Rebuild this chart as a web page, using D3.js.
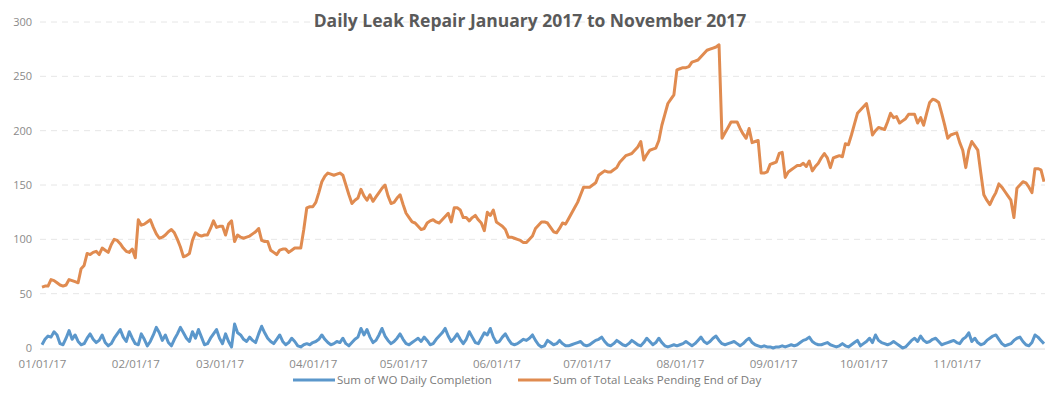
<!DOCTYPE html>
<html>
<head>
<meta charset="utf-8">
<script src="https://cdn.jsdelivr.net/npm/d3@7"></script>
<style>
  html, body { margin: 0; padding: 0; background: #fff; }
  svg { display: block; }
</style>
</head>
<body>
<svg id="chart" width="1045" height="403"></svg>
<script>
// ---------- DATA ----------
const startDate = "2017-01-01";
const endDate = "2017-11-30";
const yTicks = [0, 50, 100, 150, 200, 250, 300];
const xTickLabels = ["01/01/17","02/01/17","03/01/17","04/01/17","05/01/17","06/01/17","07/01/17","08/01/17","09/01/17","10/01/17","11/01/17"];
const seriesNames = ["Sum of WO Daily Completion", "Sum of Total Leaks Pending End of Day"];

const woDailyCompletion = [
 3,8,11,10,15,12,4, 3,9,16,8,12,6,3, 4,9,13,8,5,7,12, 5,2,4,9,13,17,10,
 6,15,9,4,3,13,8, 2,6,12,19,14,7,12, 5,2,8,13,19,14,9, 6,15,9,17,10,3,4,
 9,13,17,9,4,13,6, 1,22,14,12,8,6,10, 7,5,13,20,14,9,6, 4,8,12,6,3,5,9,
 6,2,1,3,4,3,5, 6,8,12,8,5,3,4, 6,5,9,4,2,5,8, 10,18,12,17,10,5,7,
 12,18,11,7,4,6,9, 13,8,4,3,5,7,9, 6,10,7,3,4,8,11, 14,18,11,6,9,13,8,
 4,8,15,10,5,4,9, 14,12,18,10,5,6,10, 13,8,4,3,4,6,8, 7,9,12,7,3,1,2,
 7,5,3,4,7,4,2, 2,3,4,5,6,3,2, 3,5,7,8,10,6,3, 2,4,7,5,3,2,4,
 7,5,3,2,5,9,6, 3,5,9,5,2,1,2, 3,2,3,4,6,4,2, 4,7,10,6,4,6,9,
 11,7,4,3,4,5,6, 4,2,4,7,9,5,3, 2,1,2,1,1,0,1, 1,2,1,2,3,2,3,
 5,7,8,10,6,4,3, 3,4,5,3,2,1,2, 4,2,1,3,5,7,2, 4,6,9,5,12,7,5,
 4,3,4,6,4,2,0, 1,4,7,9,6,11,7, 5,6,8,9,6,3,4, 5,6,7,5,4,8,10,
 14,6,9,5,3,4,7, 9,11,12,8,4,2,3, 4,7,9,10,6,3,2, 5,12,10,7,4
];

const totalLeaksPending = [
 56,57,57,63,62,60,58,57,58,63,62,61,60,73,76,87,86,88,89,86,
 92,90,88,95,100,99,96,92,89,88,91,83,118,113,114,116,118,111,105,101,
 102,104,107,109,106,100,93,84,85,87,99,106,104,103,104,104,110,117,111,112,
 112,104,114,117,98,104,102,101,102,103,105,107,110,99,98,98,90,88,86,90,
 91,91,88,90,92,92,92,109,129,130,130,134,143,153,158,161,160,159,160,161,
 159,150,141,133,136,138,146,140,136,141,135,139,143,147,150,140,133,134,138,141,
 132,124,120,116,115,112,109,110,115,117,118,116,115,118,121,124,116,129,129,127,
 120,120,117,120,122,118,115,108,125,122,127,116,114,112,109,102,102,101,100,99,
 97,97,100,103,110,113,116,116,115,111,107,106,110,115,114,119,124,129,134,141,
 148,148,148,150,152,159,161,163,162,162,164,166,171,174,177,178,179,182,185,190,
 173,178,182,183,184,191,205,215,225,229,233,256,257,258,258,259,263,264,265,268,
 271,274,275,276,277,279,193,198,203,208,208,208,202,197,193,202,189,190,191,161,
 161,162,169,170,171,179,180,157,162,164,166,168,168,170,167,172,163,167,170,175,
 179,175,166,175,176,177,176,188,187,196,206,216,219,222,225,212,196,200,203,202,
 201,208,216,212,213,207,209,211,215,215,215,207,212,205,216,226,229,228,226,216,
 205,193,196,197,198,189,182,166,182,190,186,182,161,141,136,132,138,143,151,148,
 144,140,136,120,147,150,153,152,148,143,165,165,164,153
];

// ---------- CHART ----------
const svg = d3.select("#chart");
const W = 1045, H = 403;
svg.append("rect").attr("width", W).attr("height", H).attr("fill", "#fff");

const parse = d3.timeParse("%Y-%m-%d");
const dates = d3.timeDay.range(parse(startDate), d3.timeDay.offset(parse(endDate), 1));

const x = d3.scaleTime().domain([parse(startDate), parse(endDate)]).range([42, 1044]);
const y = d3.scaleLinear().domain([0, 300]).range([348, 22]);

const fontFam = "'Open Sans', 'Liberation Sans', sans-serif";

// gridlines
svg.append("g").selectAll("line").data(yTicks.filter(v => v > 0)).join("line")
  .attr("x1", 40).attr("x2", 1045)
  .attr("y1", d => y(d)).attr("y2", d => y(d))
  .attr("stroke", "#e6e6e6").attr("stroke-width", 1)
  .attr("stroke-dasharray", "6,5");

// baseline
svg.append("line").attr("x1", 40).attr("x2", 1045)
  .attr("y1", y(0) + 1).attr("y2", y(0) + 1)
  .attr("stroke", "#dcdcdc").attr("stroke-width", 1);

// y axis labels
const yAxis = d3.axisLeft(y).tickValues(yTicks).tickSize(0).tickPadding(0);
const gy = svg.append("g").attr("transform", "translate(32,0)").call(yAxis);
gy.select(".domain").remove();
gy.selectAll("text").attr("font-family", fontFam).attr("font-size", 11)
  .attr("fill", "#8a8a8a");

// x axis labels
const monthTicks = d3.timeMonth.range(parse(startDate), parse(endDate));
const xAxis = d3.axisBottom(x).tickValues(monthTicks)
  .tickFormat((d, i) => xTickLabels[i]).tickSize(0).tickPadding(0);
const gx = svg.append("g").attr("transform", "translate(0,360)").call(xAxis);
gx.select(".domain").remove();
gx.selectAll("text").attr("font-family", fontFam).attr("font-size", 11.5)
  .attr("fill", "#8a8a8a");

// lines
const colors = ["#5b97cb", "#e08b50"];
const line = d3.line().x((d, i) => x(dates[i])).y(d => y(d)).curve(d3.curveLinear);

svg.append("path").datum(totalLeaksPending)
  .attr("d", line).attr("fill", "none")
  .attr("stroke", colors[1]).attr("stroke-width", 3)
  .attr("stroke-linejoin", "round");

svg.append("path").datum(woDailyCompletion)
  .attr("d", line).attr("fill", "none")
  .attr("stroke", colors[0]).attr("stroke-width", 3)
  .attr("stroke-linejoin", "round");

// title
svg.append("text").attr("x", 530).attr("y", 27)
  .attr("text-anchor", "middle")
  .attr("font-family", fontFam).attr("font-weight", 700).attr("font-size", 17.5)
  .attr("fill", "#5a5a5a")
  .text("Daily Leak Repair January 2017 to November 2017");

// legend
const legend = svg.append("g").attr("transform", "translate(0,380)");
const legItems = [
  { x: 293, w: 42, name: seriesNames[0], c: colors[0] },
  { x: 518, w: 33, name: seriesNames[1], c: colors[1] }
];
legItems.forEach(it => {
  legend.append("line").attr("x1", it.x).attr("x2", it.x + it.w)
    .attr("y1", 0).attr("y2", 0)
    .attr("stroke", it.c).attr("stroke-width", 3);
  legend.append("text").attr("x", it.x + it.w + 2).attr("y", 4)
    .attr("font-family", fontFam).attr("font-size", 11.5)
    .attr("fill", "#7a7a7a").text(it.name);
});
</script>
</body>
</html>
